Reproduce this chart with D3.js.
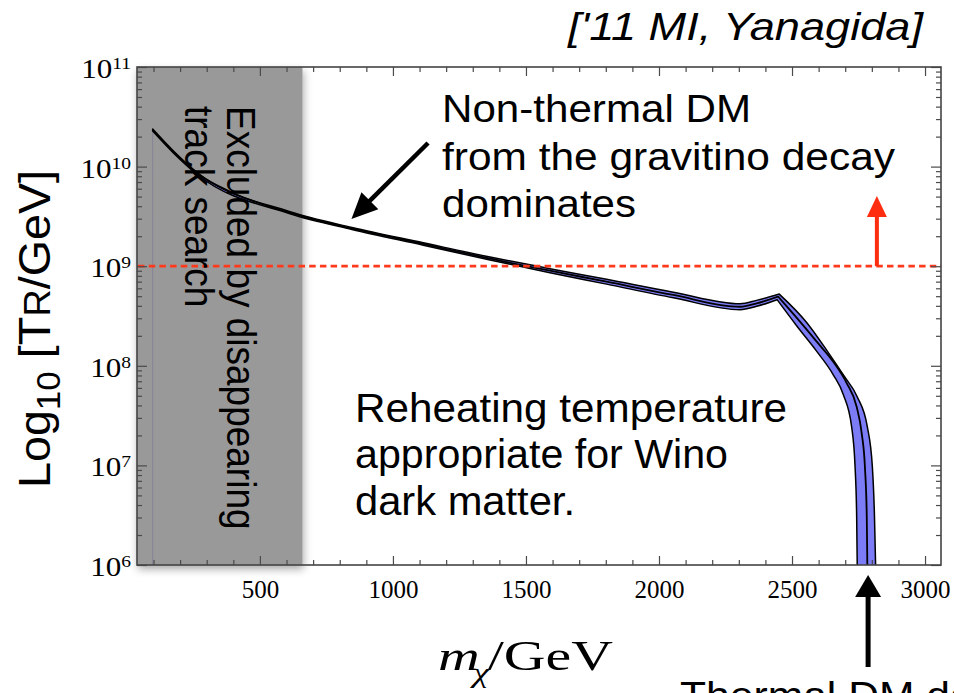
<!DOCTYPE html>
<html>
<head>
<meta charset="utf-8">
<script src="https://cdn.jsdelivr.net/npm/d3@7"></script>
<style>
  body { margin: 0; background: #fff; }
  svg { display: block; }
</style>
</head>
<body>
<svg id="chart" width="954" height="693"></svg>
<script>
// Wino mass m (GeV) against log10 of the reheating temperature T_R (GeV).
// Central curve of the allowed region.
const centralMass = [97, 174, 262, 399, 613, 726, 846, 1114, 1365, 1427, 1590, 1803, 2054, 2305, 2367, 2448, 2530, 2593, 2655, 2706, 2743, 2762, 2774, 2781, 2783, 2784];
const centralLogT = [10.367, 10.15, 9.936, 9.735, 9.537, 9.454, 9.379, 9.223, 9.077, 9.042, 8.955, 8.844, 8.711, 8.593, 8.627, 8.694, 8.443, 8.242, 8.041, 7.824, 7.589, 7.322, 6.987, 6.485, 6.017, 5.8];
// Upper (right) edge of the uncertainty band.
const upperMass = [97, 174, 262, 613, 846, 1114, 1365, 1590, 1803, 2054, 2305, 2367, 2452, 2555, 2632, 2695, 2745, 2783, 2802, 2810, 2814, 2816];
const upperLogT = [10.377, 10.16, 9.946, 9.547, 9.389, 9.235, 9.092, 8.975, 8.868, 8.739, 8.623, 8.657, 8.72, 8.435, 8.15, 7.9, 7.69, 7.389, 6.987, 6.485, 6.017, 5.8];
// Lower (left) edge of the uncertainty band.
const lowerMass = [97, 174, 262, 613, 846, 1114, 1365, 1590, 1803, 2054, 2305, 2367, 2444, 2518, 2593, 2655, 2693, 2724, 2737, 2743, 2745, 2746];
const lowerLogT = [10.357, 10.14, 9.926, 9.527, 9.369, 9.211, 9.062, 8.935, 8.82, 8.683, 8.563, 8.597, 8.664, 8.4, 8.145, 7.91, 7.71, 7.389, 6.987, 6.485, 6.017, 5.8];

// Mass range excluded by the disappearing-track search (GeV).
const excludedMass = [38, 660];
// Reference reheating temperature (GeV) for the dashed line.
const referenceT = 1e9;

// Axes.
const massDomain = [38, 3060];
const tempDomain = [1e6, 1e11];
const xMajorTicks = [500, 1000, 1500, 2000, 2500, 3000];
const xMinorTicks = [100, 200, 300, 400, 600, 700, 800, 900, 1100, 1200, 1300, 1400, 1600, 1700, 1800, 1900, 2100, 2200, 2300, 2400, 2600, 2700, 2800, 2900];
const yDecadeExponents = [6, 7, 8, 9, 10, 11];
const yMinorMultipliers = [2, 3, 4, 5, 6, 7, 8, 9];

const SANS = "'Liberation Sans', Arial, Helvetica, sans-serif";
const SERIF = "'Liberation Serif', 'Times New Roman', Times, serif";

const svg = d3.select('#chart');
const plot = { left: 137, right: 941, top: 67, bottom: 565 };

const x = d3.scaleLinear().domain(massDomain).range([plot.left, plot.right]);
const y = d3.scaleLog().domain(tempDomain).range([plot.bottom, plot.top]);
const yLog = v => y(Math.pow(10, v));

const defs = svg.append('defs');
defs.append('clipPath').attr('id', 'plotClip')
  .append('rect')
  .attr('x', plot.left).attr('y', plot.top)
  .attr('width', plot.right - plot.left).attr('height', plot.bottom - plot.top);

const shadow = defs.append('filter').attr('id', 'softShadow')
  .attr('x', '-20%').attr('y', '-10%').attr('width', '140%').attr('height', '130%');
shadow.append('feDropShadow')
  .attr('dx', 1).attr('dy', 4).attr('stdDeviation', 4)
  .attr('flood-color', '#000').attr('flood-opacity', 0.35);

// Excluded region
svg.append('rect')
  .attr('x', x(excludedMass[0])).attr('y', plot.top)
  .attr('width', x(excludedMass[1]) - x(excludedMass[0]))
  .attr('height', plot.bottom - plot.top)
  .attr('fill', '#999999')
  .attr('filter', 'url(#softShadow)');

// Series as [mass, logT] pairs
const toPts = (ms, ts) => ms.map((m, i) => [m, ts[i]]);
const central = toPts(centralMass, centralLogT);
const upper = toPts(upperMass, upperLogT);
const lower = toPts(lowerMass, lowerLogT);

// Split a curve at its kink (the local maximum above 2 TeV) so both sides stay sharp.
function splitAtPeak(pts) {
  let best = -1;
  pts.forEach((p, i) => {
    if (p[0] > 2200 && (best < 0 || p[1] > pts[best][1])) best = i;
  });
  return [pts.slice(0, best + 1), pts.slice(best)];
}

const line = d3.line().x(d => x(d[0])).y(d => yLog(d[1])).curve(d3.curveMonotoneX);
const areaToBottom = d3.area().x(d => x(d[0])).y0(plot.bottom + 40).y1(d => yLog(d[1])).curve(d3.curveMonotoneX);
const joinedArea = pts => splitAtPeak(pts).map(seg => areaToBottom(seg)).join('');

const plotG = svg.append('g').attr('clip-path', 'url(#plotClip)');

// Band fill: region under the upper edge minus region under the lower edge
const mask = defs.append('mask').attr('id', 'bandMask').attr('maskUnits', 'userSpaceOnUse')
  .attr('x', 0).attr('y', 0).attr('width', 954).attr('height', 693);
mask.append('rect').attr('width', 954).attr('height', 693).attr('fill', '#000');
mask.append('path').attr('d', joinedArea(upper)).attr('fill', '#fff');
mask.append('path').attr('d', joinedArea(lower)).attr('fill', '#000');

plotG.append('rect')
  .attr('x', plot.left).attr('y', plot.top)
  .attr('width', plot.right - plot.left).attr('height', plot.bottom - plot.top)
  .attr('fill', '#7c7cf6')
  .attr('mask', 'url(#bandMask)');

// Thin left boundary of the filled band
plotG.append('line')
  .attr('x1', x(centralMass[0])).attr('x2', x(centralMass[0]))
  .attr('y1', yLog(lowerLogT[0])).attr('y2', plot.bottom)
  .attr('stroke', '#858596').attr('stroke-width', 1);

// Band edges and central curve
[[upper, 1.5], [lower, 1.5], [central, 1.8]].forEach(([pts, w]) => {
  const [a, b] = splitAtPeak(pts);
  plotG.append('path')
    .attr('d', line(a) + line(b))
    .attr('fill', 'none')
    .attr('stroke', '#000')
    .attr('stroke-width', w)
    .attr('stroke-linejoin', 'round')
    .attr('stroke-linecap', 'round');
});

// Reference temperature line
svg.append('line')
  .attr('x1', plot.left + 1).attr('x2', plot.right)
  .attr('y1', y(referenceT)).attr('y2', y(referenceT))
  .attr('stroke', '#ff3a1c').attr('stroke-width', 2.8)
  .attr('stroke-dasharray', '6.5,4.2');

// Frame and ticks
const tickColor = '#4a4a4a';
function styleAxis(g) {
  g.select('.domain').remove();
  g.selectAll('.tick line').attr('stroke', tickColor).attr('stroke-width', 1.2);
}
svg.append('g').attr('transform', `translate(0,${plot.bottom})`)
  .call(d3.axisBottom(x).tickValues(xMinorTicks).tickSizeInner(-5).tickSizeOuter(0).tickFormat(''))
  .call(styleAxis);
svg.append('g').attr('transform', `translate(0,${plot.top})`)
  .call(d3.axisTop(x).tickValues(xMinorTicks).tickSizeInner(-5).tickSizeOuter(0).tickFormat(''))
  .call(styleAxis);
svg.append('g').attr('transform', `translate(0,${plot.top})`)
  .call(d3.axisTop(x).tickValues(xMajorTicks).tickSizeInner(-9).tickSizeOuter(0).tickFormat(''))
  .call(styleAxis);
const xAxis = svg.append('g').attr('transform', `translate(0,${plot.bottom})`)
  .call(d3.axisBottom(x).tickValues(xMajorTicks).tickSizeInner(-9).tickSizeOuter(0).tickPadding(15).tickFormat(d3.format('d')))
  .call(styleAxis);
xAxis.selectAll('.tick text')
  .attr('font-family', SERIF).attr('font-size', 25).attr('fill', '#000');

const yMinorTicks = [];
yDecadeExponents.slice(0, -1).forEach(e => yMinorMultipliers.forEach(m => yMinorTicks.push(m * Math.pow(10, e))));
const yMajorTicks = yDecadeExponents.map(e => Math.pow(10, e));
[[d3.axisRight, plot.left], [d3.axisLeft, plot.right]].forEach(([axisFn, pos]) => {
  svg.append('g').attr('transform', `translate(${pos},0)`)
    .call(axisFn(y).tickValues(yMinorTicks).tickSizeInner(5).tickSizeOuter(0).tickFormat(''))
    .call(styleAxis);
  svg.append('g').attr('transform', `translate(${pos},0)`)
    .call(axisFn(y).tickValues(yMajorTicks).tickSizeInner(10).tickSizeOuter(0).tickFormat(''))
    .call(styleAxis);
});

svg.append('rect')
  .attr('x', plot.left).attr('y', plot.top)
  .attr('width', plot.right - plot.left).attr('height', plot.bottom - plot.top)
  .attr('fill', 'none').attr('stroke', '#444').attr('stroke-width', 1.6);

// Y tick labels 10^n
yDecadeExponents.forEach(e => {
  const t = svg.append('text')
    .attr('transform', `translate(131,${y(Math.pow(10, e)) + 11}) scale(1.15,1)`)
    .attr('text-anchor', 'end')
    .attr('font-family', SERIF).attr('fill', '#000');
  t.append('tspan').attr('font-size', 27).text('10');
  t.append('tspan').attr('font-size', 17).attr('dy', -9).text(String(e));
});

// X axis title: m_chi / GeV
const xTitle = svg.append('text')
  .attr('x', 438).attr('y', 670)
  .attr('font-family', SERIF).attr('font-size', 43).attr('fill', '#000')
  .attr('textLength', 175).attr('lengthAdjust', 'spacingAndGlyphs');
xTitle.append('tspan').attr('font-style', 'italic').text('m');
xTitle.append('tspan').attr('font-style', 'italic').attr('font-size', 27).attr('dx', -5).attr('dy', 12).text('χ');
xTitle.append('tspan').attr('dx', -1).attr('dy', -12).text('/GeV');

// Y axis title: Log10 [T_R/GeV]
const yTitle = svg.append('g').attr('transform', 'translate(50,488) rotate(-90)')
  .append('text')
  .attr('font-family', SANS).attr('font-size', 44).attr('fill', '#000')
  .attr('textLength', 318).attr('lengthAdjust', 'spacingAndGlyphs');
yTitle.append('tspan').text('Log');
yTitle.append('tspan').attr('font-size', 33).attr('dy', 10).text('10');
yTitle.append('tspan').attr('dy', -10).text(' [T');
yTitle.append('tspan').attr('font-size', 36).text('R');
yTitle.append('tspan').text('/GeV]');

// Label inside the excluded region
[['Excluded by disappearing', 227], ['track search', 185]].forEach(([txt, bx]) => {
  svg.append('g').attr('transform', `translate(${bx},106) scale(1.1,1) rotate(90)`)
    .append('text')
    .attr('font-family', SANS).attr('font-size', 37).attr('fill', '#000')
    .text(txt);
});

// Annotations
function annotate(lines, x0, baselines, size, opts = {}) {
  lines.forEach((txt, i) => {
    const t = svg.append('text')
      .attr('x', x0).attr('y', baselines[i])
      .attr('font-family', SANS).attr('font-size', size).attr('fill', '#000')
      .text(txt);
    if (opts.widths) t.attr('textLength', opts.widths[i]).attr('lengthAdjust', 'spacingAndGlyphs');
    if (opts.italic) t.attr('font-style', 'italic');
  });
}
annotate(['Non-thermal DM', 'from the gravitino decay', 'dominates'], 442, [122, 170, 217], 38,
  { widths: [309, 453, 194] });
annotate(['Reheating temperature', 'appropriate for Wino', 'dark matter.'], 355, [422, 468, 515], 40,
  { widths: [432, 373, 220] });
annotate(["['11 MI, Yanagida]"], 568, [40], 38, { widths: [355], italic: true });
annotate(['Thermal DM dominates'], 680, [709], 39, { widths: [443] });

// Arrows
function arrow(x1, y1, x2, y2, headLen, headW, shaftW, color) {
  const dx = x2 - x1, dy = y2 - y1, len = Math.hypot(dx, dy);
  const ux = dx / len, uy = dy / len, px = -uy, py = ux;
  const bx = x2 - ux * headLen, by = y2 - uy * headLen;
  svg.append('line')
    .attr('x1', x1).attr('y1', y1).attr('x2', bx + ux * 1).attr('y2', by + uy * 1)
    .attr('stroke', color).attr('stroke-width', shaftW);
  svg.append('path')
    .attr('d', `M${x2},${y2}L${bx + px * headW / 2},${by + py * headW / 2}L${bx - px * headW / 2},${by - py * headW / 2}Z`)
    .attr('fill', color);
}
// Pointer onto the non-thermal branch
arrow(x(1132), yLog(10.237), x(844), yLog(9.474), 26, 24, 4.5, '#000');
// Upward arrow from the reference line
arrow(x(2819), y(referenceT), x(2819), yLog(9.705), 21, 20, 4, '#ff2d10');
// Pointer to the thermal end point
arrow(x(2786), 667, x(2786), 575, 22, 26, 5, '#000');
</script>
</body>
</html>
